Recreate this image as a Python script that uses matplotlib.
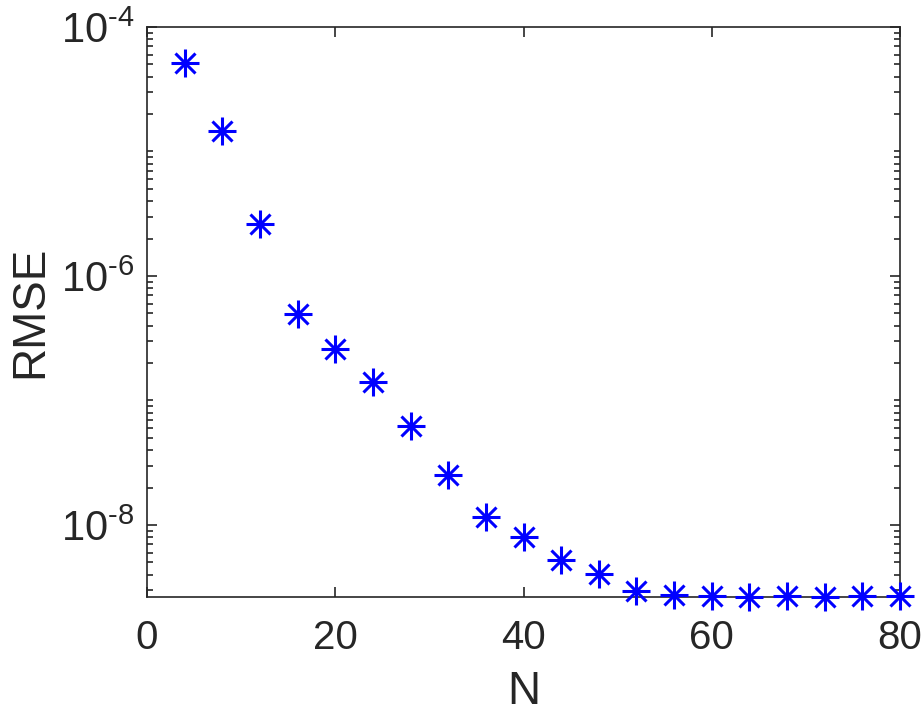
import numpy as np
import matplotlib
matplotlib.use('Agg')
import matplotlib.pyplot as plt
from matplotlib.ticker import FixedLocator, NullFormatter

plt.rcParams['font.family'] = 'Liberation Sans'
plt.rcParams['mathtext.fontset'] = 'custom'
plt.rcParams['mathtext.rm'] = 'Liberation Sans'
plt.rcParams['mathtext.it'] = 'Liberation Sans'
plt.rcParams['mathtext.default'] = 'regular'

# data
N = [4, 8, 12, 16, 20, 24, 28, 32, 36, 40, 44, 48, 52, 56, 60, 64, 68, 72, 76, 80]
rmse = [5.1e-5, 1.45e-5, 2.6e-6, 4.95e-7, 2.6e-7, 1.40e-7, 6.2e-8, 2.52e-8,
        1.17e-8, 8.0e-9, 5.2e-9, 4.07e-9, 2.95e-9, 2.72e-9, 2.69e-9, 2.64e-9,
        2.71e-9, 2.66e-9, 2.69e-9, 2.69e-9]
xticks = [0, 20, 40, 60, 80]
yticks = [1e-8, 1e-6, 1e-4]
ytick_labels = [r'$10^{\text{-8}}$', r'$10^{\text{-6}}$', r'$10^{\text{-4}}$']

dark = '#262626'
fig = plt.figure(figsize=(9.24, 7.18), dpi=100)
ax = fig.add_axes([147/924, 1 - 597/718, (900 - 147)/924, (597 - 27)/718])

# matlab style asterisk: plus + cross
ax.plot(N, rmse, linestyle='none', marker='+', markersize=20, mew=2.2,
        color='#0000ff', clip_on=False, zorder=3)
ax.plot(N, rmse, linestyle='none', marker='x', markersize=14, mew=2.2,
        color='#0000ff', clip_on=False, zorder=3)

ax.set_yscale('log')
ax.set_xlim(0, 80)
ax.set_ylim(min(rmse), 1e-4)
ax.set_xticks(xticks)
ax.set_yticks(yticks)
ax.set_yticklabels(ytick_labels)
minor = []
for e in range(-9, -4):
    for m in range(1, 10):
        v = m * 10.0**e
        if v not in yticks:
            minor.append(v)
ax.yaxis.set_minor_locator(FixedLocator(minor))
ax.yaxis.set_minor_formatter(NullFormatter())

ax.tick_params(which='both', direction='in', top=True, right=True, colors=dark,
               labelsize=29, width=1.2)
ax.tick_params(which='major', length=7, pad=16)
ax.tick_params(which='minor', length=4)
ax.tick_params(axis='y', labelsize=30, pad=9)
for s in ax.spines.values():
    s.set_color(dark)
    s.set_linewidth(1.2)

ax.set_xlabel('N', fontsize=33, color=dark, labelpad=9)
ax.set_ylabel('RMSE', fontsize=33, color=dark, labelpad=6)

fig.savefig('out.png', dpi=100, facecolor='white')
